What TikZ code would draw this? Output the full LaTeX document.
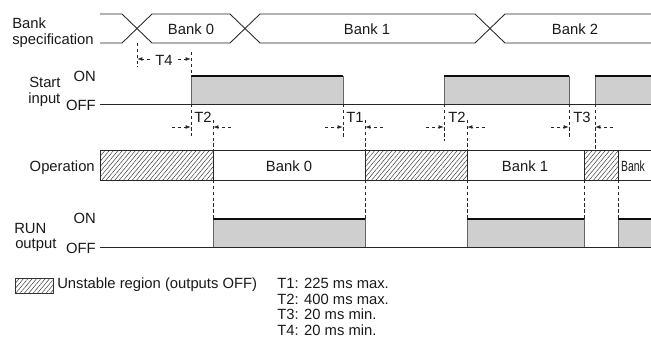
\documentclass[tikz,border=0pt]{standalone}
\usepackage{fontspec}
\setmainfont{Liberation Sans}
\usetikzlibrary{arrows.meta,patterns.meta}
\begin{document}
\begin{tikzpicture}[x=0.75pt,y=-0.75pt,
  every node/.style={font=\fontsize{11.1}{13}\selectfont, inner sep=0pt, text=black!90},
  sig/.style={line width=0.65pt, draw=black!85},
  hi/.style={line width=2.2pt, draw=black!95},
  edge/.style={line width=0.6pt, draw=black!60},
  gfill/.style={fill=black!19},
  hatch/.style={pattern={Lines[angle=50,distance=2.5pt,line width=0.35pt]}, pattern color=black!80},
  dsh/.style={draw=black!85, line width=0.6pt, dash pattern=on 2.6pt off 1.8pt},
  dim/.style={dsh, -{Latex[length=4pt,width=2.8pt]}},
]
\path[use as bounding box] (0,0) rectangle (651,343);

% ---------- Bank specification ----------
\draw[sig] (100,14) -- (122,14) -- (152,43) -- (230,43) -- (260,14) -- (475,14) -- (505,43) -- (651,43);
\draw[sig] (100,43) -- (122,43) -- (152,14) -- (230,14) -- (260,43) -- (475,43) -- (505,14) -- (651,14);
\node[anchor=base west] (lbank) at (12,28.5) {Bank};
\node[anchor=base west] (lspec) at (12,44) {specification};
\node[anchor=base] (b0) at (191,34.5) {Bank 0};
\node[anchor=base] (b1) at (367,34.5) {Bank 1};
\node[anchor=base] (b2) at (575,34.5) {Bank 2};

% ---------- Start input ----------
\fill[gfill] (191,76) rectangle (343,104);
\fill[gfill] (444,76) rectangle (569,104);
\fill[gfill] (595,76) rectangle (651,104);
\draw[edge] (191,76) -- (191,104) (343,76) -- (343,104)
            (444,76) -- (444,104) (569,76) -- (569,104)
            (595,76) -- (595,104);
\draw[sig] (100,104) -- (651,104);
\draw[hi] (191,76) -- (343,76) (444,76) -- (569,76) (595,76) -- (651,76);
\node[anchor=base west] (lstart) at (29,87) {Start};
\node[anchor=base west] (linput) at (28,103) {input};
\node[anchor=base east] (son) at (96,81.5) {ON};
\node[anchor=base east] (soff) at (96,110) {OFF};

% ---------- Operation ----------
\path[hatch] (100,150) rectangle (213,180);
\path[hatch] (365,150) rectangle (467,180);
\path[hatch] (584,150) rectangle (618,180);
\draw[sig] (100,150) -- (651,150) (100,180) -- (651,180);
\draw[sig] (100,150) -- (100,180) (213,150) -- (213,180) (365,150) -- (365,180)
           (467,150) -- (467,180) (584,150) -- (584,180) (618,150) -- (618,180);
\node[anchor=base east] (lop) at (95,171.5) {Operation};
\node[anchor=base] (o0) at (289,171) {Bank 0};
\node[anchor=base] (o1) at (525,171) {Bank 1};
\node[anchor=base west, xscale=0.7] (o2) at (621,171) {Bank};

% ---------- RUN output ----------
\fill[gfill] (213,219) rectangle (365,247);
\fill[gfill] (467,219) rectangle (584,247);
\fill[gfill] (618,219) rectangle (651,247);
\draw[edge] (213,219) -- (213,247) (365,219) -- (365,247)
            (467,219) -- (467,247) (584,219) -- (584,247)
            (618,219) -- (618,247);
\draw[sig] (100,247) -- (651,247);
\draw[hi] (213,219) -- (365,219) (467,219) -- (584,219) (618,219) -- (651,219);
\node[anchor=base west] (lrun) at (14,233) {RUN};
\node[anchor=base west] (lout) at (15,248) {output};
\node[anchor=base east] (ron) at (96,223) {ON};
\node[anchor=base east] (roff) at (96,253) {OFF};

% ---------- dashed guide lines ----------
\draw[dsh] (137,43) -- (137,67);
\draw[dsh] (191,52) -- (191,76) (191,104) -- (191,136);
\draw[dsh] (213,120) -- (213,150) (213,180) -- (213,219);
\draw[dsh] (343,104) -- (343,137);
\draw[dsh] (365,120) -- (365,150) (365,180) -- (365,219);
\draw[dsh] (444,104) -- (444,141);
\draw[dsh] (467,120) -- (467,150) (467,180) -- (467,219);
\draw[dsh] (569,104) -- (569,137);
\draw[dsh] (595,104) -- (595,149);
\draw[dsh] (584,180) -- (584,219) (618,180) -- (618,219);

% ---------- timing marks ----------
\node (t4) at (164,60) {T4};
\draw[dim] (150,59) -- (137,59);
\draw[dim] (178,59) -- (191,59);

\node[anchor=base west] (t2a) at (194,122.5) {T2};
\draw[dim] (172,127) -- (191,127);
\draw[dim] (231,127) -- (213,127);

\node[anchor=base west] (t1) at (346,122.5) {T1};
\draw[dim] (325,127) -- (343,127);
\draw[dim] (383,127) -- (365,127);

\node[anchor=base west] (t2b) at (448,122.5) {T2};
\draw[dim] (426,127) -- (444,127);
\draw[dim] (485,127) -- (467,127);

\node[anchor=base west] (t3) at (573,122.5) {T3};
\draw[dim] (551,127) -- (569,127);
\draw[dim] (613,127) -- (595,127);

% ---------- legend ----------
\path[hatch] (15,278) rectangle (53,293);
\draw[line width=0.5pt, draw=black!80] (15,278) rectangle (53,293);
\node[anchor=base west] (leg) at (57,288) {Unstable region (outputs OFF)};
\node[anchor=base west] (n1) at (277,288) {T1: 225 ms max.};
\node[anchor=base west] (n2) at (277,304) {T2: 400 ms max.};
\node[anchor=base west] (n3) at (277,319.5) {T3: 20 ms min.};
\node[anchor=base west] (n4) at (277,335) {T4: 20 ms min.};
\end{tikzpicture}
\end{document}
